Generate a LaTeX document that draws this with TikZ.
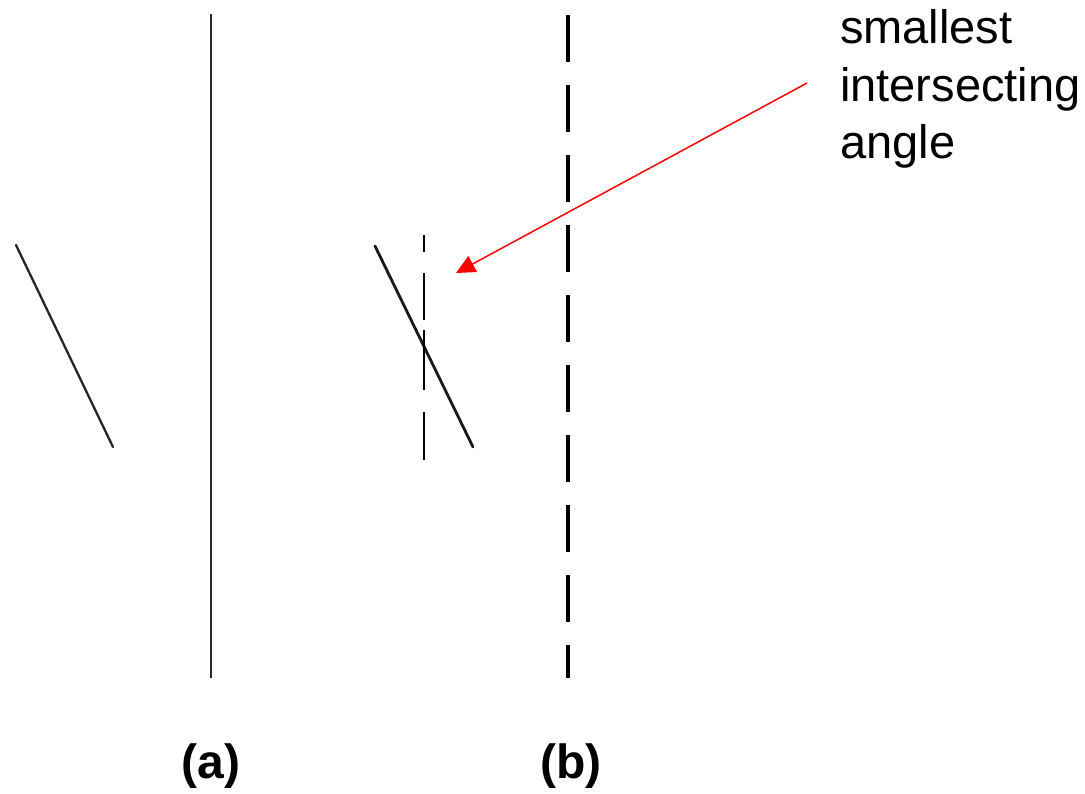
\documentclass[tikz,border=0pt]{standalone}
\usepackage{fontspec}
\setmainfont{Liberation Sans}
\usetikzlibrary{arrows.meta}
\begin{document}
\begin{tikzpicture}[x=1pt,y=-1pt,
  label text/.style={font=\fontsize{47}{57}\selectfont, inner sep=0pt, anchor=base west},
  panel label/.style={font=\fontsize{48}{58}\selectfont\bfseries, inner sep=0pt, anchor=base},
  solidline/.style={line width=2.3pt, black!85},
  bigdash/.style={line width=3.4pt, black, dash pattern=on 47pt off 23pt},
  stroke/.style={line width=2.8pt, black!90, line cap=round},
  thinstroke/.style={line width=2.3pt, black!85, line cap=round},
  smalldash/.style={line width=2pt, black},
  pointer/.style={red, line width=1.5pt, -{Triangle[length=19pt,width=18pt]}}]
\useasboundingbox (0,0) rectangle (1085,793);
% panel (a)
\coordinate (a1) at (16,245);
\coordinate (a2) at (113,447);
\draw[thinstroke] (a1) -- (a2);
\coordinate (atop) at (211,14);
\coordinate (abot) at (211,678);
\draw[solidline] (atop) -- (abot);
% panel (b)
\coordinate (btop) at (568,15);
\coordinate (bbot) at (568,678);
\draw[bigdash] (btop) -- (bbot);
\coordinate (d1) at (375,246);
\coordinate (d2) at (473,447);
\draw[stroke] (d1) -- (d2);
\coordinate (s1) at (424,235);
\coordinate (s2) at (424,460);
\draw[smalldash] (424,235) -- (424,252) (424,273) -- (424,320) (424,330) -- (424,390) (424,412) -- (424,460);
% labels
\node[panel label] (la) at (211,778) {(a)};
\node[panel label] (lb) at (571,778) {(b)};
\node[label text] (t1) at (840,43) {smallest};
\node[label text] (t2) at (840,101) {intersecting};
\node[label text] (t3) at (840,158) {angle};
% pointer
\coordinate (ps) at (807,83);
\coordinate (pe) at (456,273);
\draw[pointer] (ps) -- (pe);
\end{tikzpicture}
\end{document}
